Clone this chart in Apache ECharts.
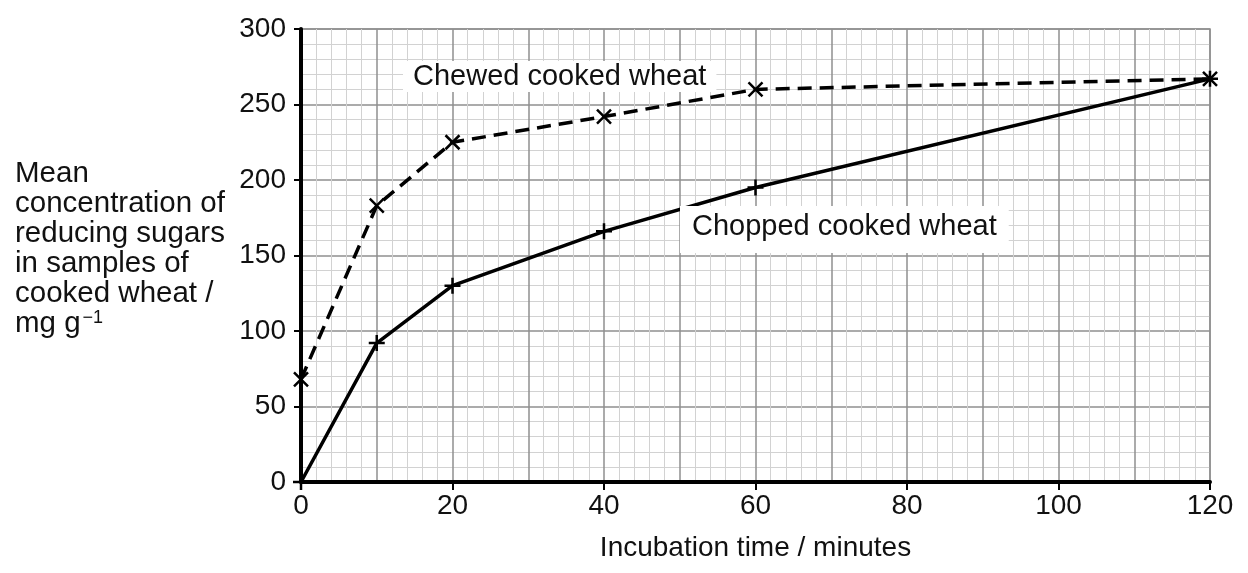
<!DOCTYPE html>
<html>
<head>
<meta charset="utf-8">
<script src="https://cdn.jsdelivr.net/npm/echarts@6/dist/echarts.min.js"></script>
<style>
  html, body { margin: 0; padding: 0; background: #fff; }
</style>
</head>
<body>
<div id="main" style="width:1248px;height:573px;"></div>
<script>
// data
var times = [0, 10, 20, 40, 60, 120];
var chewed = [68, 183, 225, 242, 260, 267];
var chopped = [0, 92, 130, 166, 195, 267];
var xTicks = [0, 20, 40, 60, 80, 100, 120];
var yTicks = [0, 50, 100, 150, 200, 250, 300];

var FONT = '"Liberation Sans", Arial, sans-serif';

function pairs(ys) {
  return times.map(function (t, i) { return [t, ys[i]]; });
}

var myChart = echarts.init(document.getElementById('main'));

var option = {
  animation: false,
  backgroundColor: '#fff',
  grid: {
    left: 301,
    right: 38,
    top: 29,
    bottom: 91,
    show: true,
    borderColor: '#8f8f8f',
    borderWidth: 1.5,
    backgroundColor: '#fff'
  },
  xAxis: [
    {
      type: 'value',
      min: xTicks[0],
      max: xTicks[xTicks.length - 1],
      interval: 20,
      name: 'Incubation time / minutes',
      nameLocation: 'middle',
      nameGap: 52,
      nameTextStyle: { fontFamily: FONT, fontSize: 28, color: '#111' },
      axisLine: { show: true, lineStyle: { color: '#000', width: 4 } },
      axisTick: { show: true, length: 8, lineStyle: { color: '#000', width: 2 } },
      axisLabel: { fontFamily: FONT, fontSize: 28, color: '#111', margin: 10 },
      splitLine: { show: false }
    },
    {
      // grid only: darker lines every 10, light ones every 2
      type: 'value',
      min: 0,
      max: 120,
      interval: 10,
      position: 'bottom',
      axisLine: { show: false },
      axisTick: { show: false },
      axisLabel: { show: false },
      splitLine: { show: true, lineStyle: { color: '#8f8f8f', width: 1.5 } },
      minorTick: { show: false, splitNumber: 5 },
      minorSplitLine: { show: true, lineStyle: { color: '#d2d2d2', width: 1 } }
    }
  ],
  yAxis: {
    type: 'value',
    min: yTicks[0],
    max: yTicks[yTicks.length - 1],
    interval: 50,
    axisLine: { show: true, lineStyle: { color: '#000', width: 4 } },
    axisTick: { show: true, length: 7, lineStyle: { color: '#000', width: 2 } },
    axisLabel: { fontFamily: FONT, fontSize: 28, color: '#111', margin: 15 },
    splitLine: { show: true, lineStyle: { color: '#8f8f8f', width: 1.5 } },
    minorTick: { show: false, splitNumber: 5 },
    minorSplitLine: { show: true, lineStyle: { color: '#d2d2d2', width: 1 } }
  },
  series: [
    {
      name: 'Chewed cooked wheat',
      type: 'line',
      xAxisIndex: 0,
      data: pairs(chewed),
      symbol: 'path://M0,0L10,10M10,0L0,10',
      symbolSize: 14,
      showAllSymbol: true,
      lineStyle: { color: '#000', width: 3.5, type: [14, 8] },
      itemStyle: { color: 'none', borderColor: '#000', borderWidth: 2.5 },
      z: 5
    },
    {
      name: 'Chopped cooked wheat',
      type: 'line',
      xAxisIndex: 0,
      data: pairs(chopped),
      symbol: 'path://M5,0L5,10M0,5L10,5',
      symbolSize: 16,
      showAllSymbol: true,
      lineStyle: { color: '#000', width: 3.5 },
      itemStyle: { color: 'none', borderColor: '#000', borderWidth: 2.5 },
      z: 5
    }
  ],
  graphic: [
    {
      type: 'text',
      left: 15,
      top: 159,
      style: {
        text: 'Mean\nconcentration of\nreducing sugars\nin samples of\ncooked wheat /\nmg g{sup|\u22121}',
        font: '29.5px ' + FONT,
        fill: '#111',
        lineHeight: 30,
        rich: {
          sup: { fontSize: 18, verticalAlign: 'top', padding: [0, 0, 10, 2], fill: '#111' }
        }
      }
    },
    {
      type: 'text',
      left: 403,
      top: 61,
      z: 10,
      style: {
        text: 'Chewed cooked wheat',
        font: '29px ' + FONT,
        fill: '#111',
        backgroundColor: '#fff',
        padding: [1, 10, 1, 10]
      }
    },
    {
      type: 'text',
      left: 680,
      top: 206,
      z: 10,
      style: {
        text: 'Chopped cooked wheat',
        font: '29px ' + FONT,
        fill: '#111',
        backgroundColor: '#fff',
        padding: [6, 12, 12, 12]
      }
    }
  ]
};

myChart.setOption(option);
</script>
</body>
</html>
